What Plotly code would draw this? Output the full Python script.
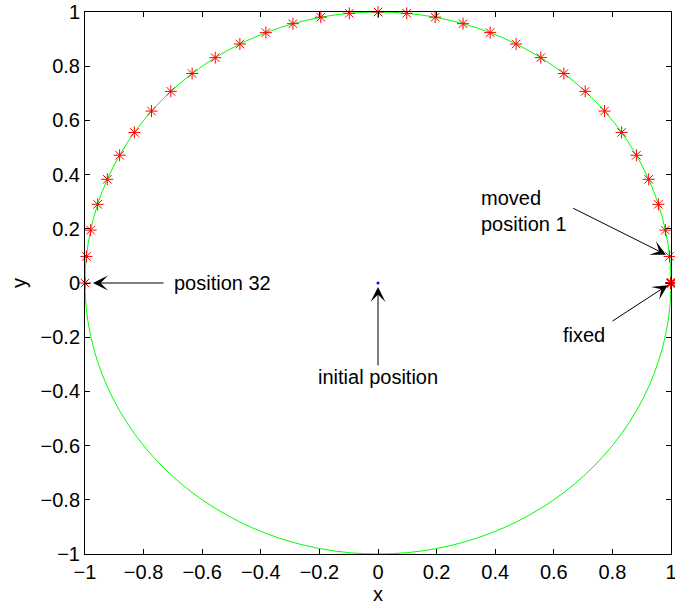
import plotly.graph_objects as go

# Data
pos_x = [1.0, 0.9952, 0.9808, 0.9569, 0.9239, 0.8819, 0.8315, 0.7730, 0.7071, 0.6344,
         0.5556, 0.4714, 0.3827, 0.2903, 0.1951, 0.0980, 0.0, -0.0980, -0.1951, -0.2903,
         -0.3827, -0.4714, -0.5556, -0.6344, -0.7071, -0.7730, -0.8315, -0.8819, -0.9239,
         -0.9569, -0.9808, -0.9952, -1.0]
pos_y = [0.0, 0.0980, 0.1951, 0.2903, 0.3827, 0.4714, 0.5556, 0.6344, 0.7071, 0.7730,
         0.8315, 0.8819, 0.9239, 0.9569, 0.9808, 0.9952, 1.0, 0.9952, 0.9808, 0.9569,
         0.9239, 0.8819, 0.8315, 0.7730, 0.7071, 0.6344, 0.5556, 0.4714, 0.3827,
         0.2903, 0.1951, 0.0980, 0.0]
fixed_x = [1.0]
fixed_y = [0.0]
initial_x = [0.0]
initial_y = [0.0]
circle_center = [0.0, 0.0]
circle_radius = 1.0
tick_vals = [-1, -0.8, -0.6, -0.4, -0.2, 0, 0.2, 0.4, 0.6, 0.8, 1]
tick_text = ["\u22121", "\u22120.8", "\u22120.6", "\u22120.4", "\u22120.2", "0",
             "0.2", "0.4", "0.6", "0.8", "1"]

fig = go.Figure()

fig.add_shape(type="circle", xref="x", yref="y",
              x0=circle_center[0] - circle_radius, x1=circle_center[0] + circle_radius,
              y0=circle_center[1] - circle_radius, y1=circle_center[1] + circle_radius,
              line=dict(color="#00ff00", width=1), layer="below")

fig.add_trace(go.Scatter(x=pos_x, y=pos_y, mode="markers",
                         marker=dict(symbol="asterisk-open", size=10, color="#ff0000",
                                     line=dict(color="#ff0000", width=1)),
                         cliponaxis=False, showlegend=False))
fig.add_trace(go.Scatter(x=fixed_x, y=fixed_y, mode="markers",
                         marker=dict(symbol="asterisk-open", size=10, color="#ff0000",
                                     line=dict(color="#ff0000", width=2)),
                         cliponaxis=False, showlegend=False))
fig.add_trace(go.Scatter(x=initial_x, y=initial_y, mode="markers",
                         marker=dict(symbol="circle", size=3, color="#0000ff"),
                         showlegend=False))

font = dict(family="Liberation Sans, Arial, sans-serif", size=20, color="black")
arrow = dict(showarrow=True, arrowhead=3, arrowsize=2.5, arrowwidth=1,
             arrowcolor="black", text="", xref="x", yref="y")

# arrows
fig.add_annotation(x=pos_x[-1], y=pos_y[-1], ax=80, ay=0, standoff=8, **arrow)
fig.add_annotation(x=pos_x[1], y=pos_y[1], ax=-98, ay=-49, standoff=4, **arrow)
fig.add_annotation(x=fixed_x[0], y=fixed_y[0], ax=-60, ay=39, standoff=4, **arrow)
fig.add_annotation(x=initial_x[0], y=initial_y[0], ax=0, ay=84, standoff=4, **arrow)

# labels
fig.add_annotation(x=-0.703, y=0.0, text="position 32", showarrow=False,
                   xanchor="left", yanchor="middle", font=font)
fig.add_annotation(x=0.345, y=0.266, text="moved<br>position 1", showarrow=False,
                   xanchor="left", yanchor="middle", align="left", font=font)
fig.add_annotation(x=0.703, y=-0.192, text="fixed", showarrow=False,
                   xanchor="center", yanchor="middle", font=font)
fig.add_annotation(x=0.0, y=-0.347, text="initial position", showarrow=False,
                   xanchor="center", yanchor="middle", font=font)

axis_common = dict(range=[-1, 1], tickvals=tick_vals, ticktext=tick_text,
                   ticks="inside", ticklen=5, tickcolor="black", tickwidth=1,
                   showline=True, linecolor="black", linewidth=1, mirror="ticks",
                   showgrid=False, zeroline=False, tickfont=font, automargin=False,
                   ticklabeloverflow="allow")

fig.update_xaxes(**axis_common, title=dict(text="x", font=font, standoff=2))
fig.update_yaxes(**axis_common, title=dict(text="y", font=font, standoff=8))

fig.update_layout(width=675, height=607,
                  margin=dict(l=85, r=4, t=12, b=53),
                  plot_bgcolor="white", paper_bgcolor="white",
                  font=font)

# remove the browser's default 8px body margin so the figure sits at the page origin
fig.write_html("out.html", config={"displayModeBar": False},
               post_script="document.body.style.margin='0px';document.body.style.overflow='hidden';")
